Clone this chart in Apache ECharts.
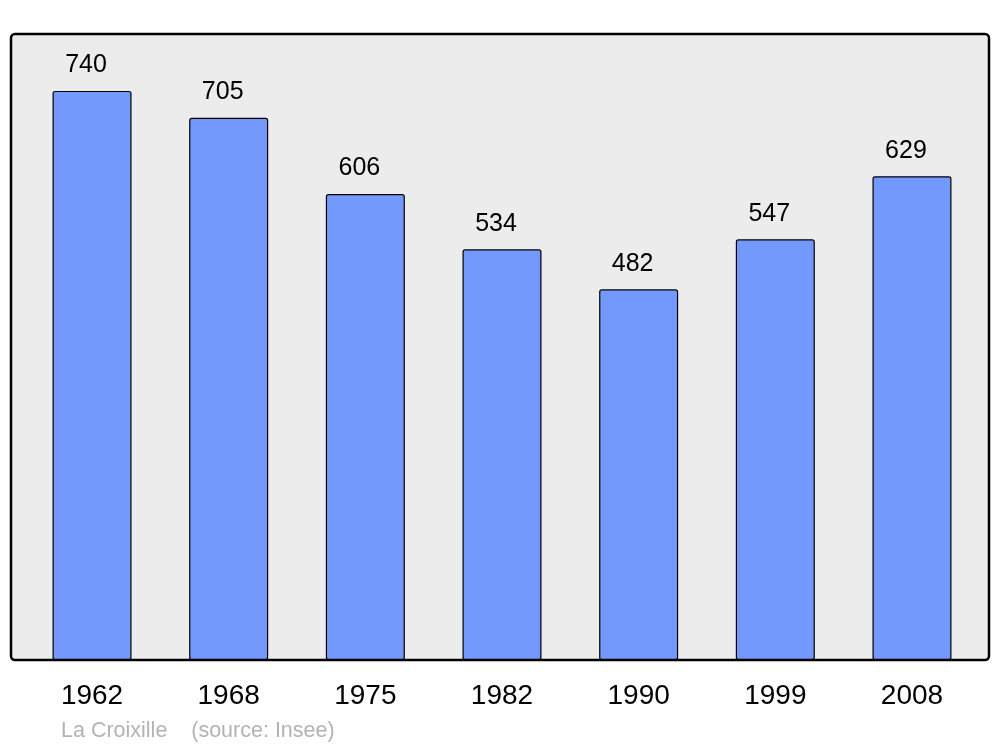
<!DOCTYPE html>
<html><head><meta charset="utf-8">
<script src="https://cdn.jsdelivr.net/npm/echarts@6/dist/echarts.min.js"></script>
<style>html,body{margin:0;padding:0;background:#fff}#c{width:1000px;height:747px}</style>
</head><body><div id="c"></div>
<script>
const years = ['1962','1968','1975','1982','1990','1999','2008'];
const population = [740, 705, 606, 534, 482, 547, 629];
const sourceText = 'La Croixille    (source: Insee)';

const chart = echarts.init(document.getElementById('c'), null, {renderer:'canvas'});
chart.setOption({
  animation: false,
  textStyle: {fontFamily: 'Liberation Sans, Arial, sans-serif'},
  graphic: [{
    type: 'rect', z: -10, silent: true,
    shape: {x: 11, y: 34, width: 978, height: 626, r: 4},
    style: {fill: '#ececec', stroke: '#000', lineWidth: 2.5}
  }],
  title: {
    text: sourceText, left: 61, top: 720, padding: 0,
    textStyle: {color: '#b3b3b3', fontSize: 21.5, fontWeight: 'normal', fontFamily: 'Liberation Sans, Arial, sans-serif'}
  },
  grid: {left: 23.7, right: 19.7, top: 34, bottom: 87},
  xAxis: {
    type: 'category', data: years,
    axisLine: {show: false}, axisTick: {show: false},
    axisLabel: {color: '#000', fontSize: 28, margin: 22, fontFamily: 'Liberation Sans, Arial, sans-serif'}
  },
  yAxis: {
    type: 'value', min: 0, max: 814,
    show: false, splitLine: {show: false}
  },
  series: [{
    type: 'bar', data: population, barWidth: 79,
    itemStyle: {color: '#7399ff', borderColor: '#000', borderWidth: 1.2, borderRadius: 2},
    label: {show: true, position: 'top', distance: 13, offset: [-6, 0], color: '#000', fontSize: 25,
      fontFamily: 'Liberation Sans, Arial, sans-serif'}
  }]
});
</script></body></html>
